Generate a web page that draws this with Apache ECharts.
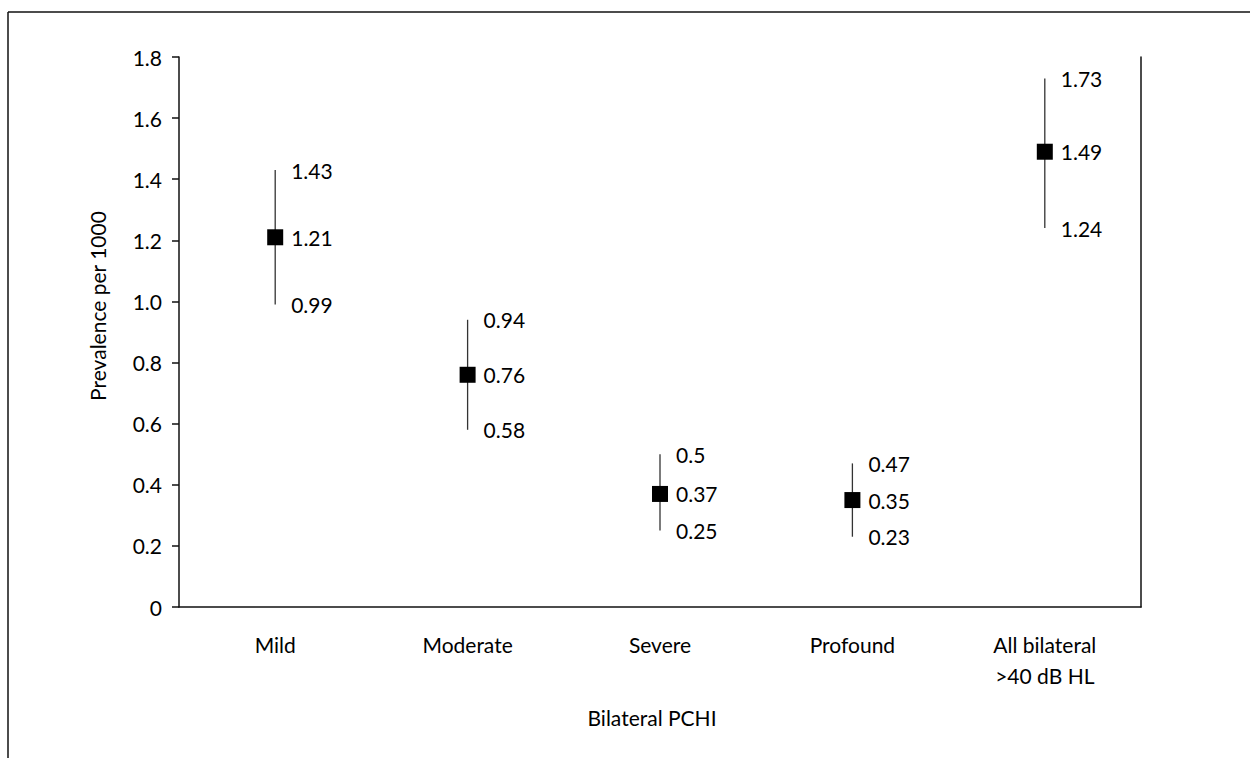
<!DOCTYPE html>
<html>
<head>
<meta charset="utf-8">
<script src="https://cdn.jsdelivr.net/npm/echarts@6/dist/echarts.min.js"></script>
<style>
html,body{margin:0;padding:0;background:#fff;}
#chart{width:1250px;height:758px;}
</style>
</head>
<body>
<div id="chart"></div>
<script>
const categories = ['Mild', 'Moderate', 'Severe', 'Profound', 'All bilateral\n>40 dB HL'];
const means = [1.21, 0.76, 0.37, 0.35, 1.49];
const lows  = [0.99, 0.58, 0.25, 0.23, 1.24];
const highs = [1.43, 0.94, 0.5, 0.47, 1.73];
const yTicks = [0, 0.2, 0.4, 0.6, 0.8, 1.0, 1.2, 1.4, 1.6, 1.8];
const xTitle = 'Bilateral PCHI';
const yTitle = 'Prevalence per 1000';

const FONT = 'Lato, "Open Sans", sans-serif';
const FS = 21;

const chart = echarts.init(document.getElementById('chart'), null, {renderer: 'svg'});

const errData = categories.map((c, i) => [i, lows[i], highs[i]]);
const meanData = categories.map((c, i) => [i, means[i]]);

function fmtTick(v) {
  if (v === 0) return '0';
  return v.toFixed(1);
}

const option = {
  animation: false,
  backgroundColor: '#fff',
  grid: {left: 179, right: 109, top: 57, bottom: 151, containLabel: false},
  xAxis: {
    type: 'category',
    data: categories,
    boundaryGap: true,
    axisLine: {show: true, lineStyle: {color: '#111', width: 1.5}},
    axisTick: {show: false},
    axisLabel: {color: '#000', fontFamily: FONT, fontSize: FS, lineHeight: 31, margin: 22, interval: 0},
    splitLine: {show: false}
  },
  yAxis: [{
    type: 'value',
    min: 0, max: 1.8, interval: 0.2,
    axisLine: {show: true, lineStyle: {color: '#111', width: 1.5}},
    axisTick: {show: true, inside: false, length: 7, lineStyle: {color: '#111', width: 1.5}},
    axisLabel: {color: '#000', fontFamily: FONT, fontSize: FS, margin: 17,
      formatter: function (v) { return fmtTick(v); }},
    splitLine: {show: false}
  }, {
    type: 'value', position: 'right',
    min: 0, max: 1.8, interval: 0.2,
    axisLine: {show: true, lineStyle: {color: '#111', width: 1.5}},
    axisTick: {show: false},
    axisLabel: {show: false},
    splitLine: {show: false}
  }],
  graphic: [
    {type: 'line', shape: {x1: 8, y1: 12, x2: 1250, y2: 12}, style: {stroke: '#111', lineWidth: 1.5}, silent: true},
    {type: 'line', shape: {x1: 8, y1: 12, x2: 8, y2: 758}, style: {stroke: '#111', lineWidth: 1.5}, silent: true},
    {type: 'text', x: 652, y: 717, style: {text: xTitle, font: FS + 'px ' + FONT, fill: '#000', textAlign: 'center', textVerticalAlign: 'middle'}},
    {type: 'text', x: 97, y: 306, rotation: Math.PI / 2, style: {text: yTitle, font: FS + 'px ' + FONT, fill: '#000', textAlign: 'center', textVerticalAlign: 'middle'}}
  ],
  series: [{
    type: 'custom',
    data: errData,
    z: 2,
    renderItem: function (params, api) {
      const x = api.value(0);
      const lo = api.coord([x, api.value(1)]);
      const hi = api.coord([x, api.value(2)]);
      const font = FS + 'px ' + FONT;
      return {
        type: 'group',
        children: [
          {type: 'line', shape: {x1: lo[0], y1: lo[1], x2: hi[0], y2: hi[1]}, style: {stroke: '#333', lineWidth: 1.3}},
          {type: 'text', style: {text: String(api.value(2)), x: hi[0] + 16, y: hi[1], font: font, fill: '#000', textVerticalAlign: 'middle'}},
          {type: 'text', style: {text: String(api.value(1)), x: lo[0] + 16, y: lo[1], font: font, fill: '#000', textVerticalAlign: 'middle'}}
        ]
      };
    }
  }, {
    type: 'scatter',
    data: meanData,
    symbol: 'rect',
    symbolSize: 16,
    z: 3,
    itemStyle: {color: '#000', opacity: 1},
    label: {show: true, position: 'right', distance: 8, color: '#000', opacity: 1, fontFamily: FONT, fontSize: FS,
      formatter: function (p) { return String(p.value[1]); }},
    emphasis: {disabled: true}
  }]
};
chart.setOption(option);
</script>
</body>
</html>
